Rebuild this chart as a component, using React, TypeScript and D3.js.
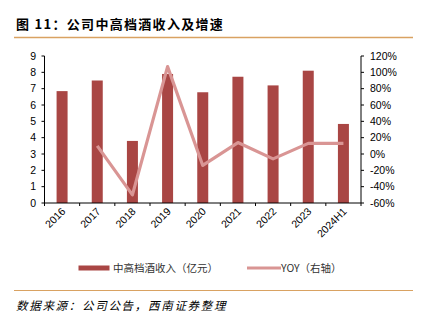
import React from "react";
import * as d3 from "d3";

const categories = ["2016", "2017", "2018", "2019", "2020", "2021", "2022", "2023", "2024H1"];
const revenue = [6.85, 7.5, 3.8, 7.9, 6.78, 7.73, 7.2, 8.1, 4.84];
const yoy = [null, 10, -50, 107, -14, 14, -6, 13, 13];
const leftTicks = [0, 1, 2, 3, 4, 5, 6, 7, 8, 9];
const rightTicks = [-60, -40, -20, 0, 20, 40, 60, 80, 100, 120];

const W = 423, H = 323;
const plot = { left: 44.5, right: 361, top: 56, bottom: 203 };
const barColor = "#A94644";
const lineColor = "#D99594";
const font = "'Liberation Sans', Arial, sans-serif";
const cjk = "'Noto Sans CJK SC', sans-serif";

export default function App() {
  const x = d3.scaleBand().domain(categories).range([plot.left, plot.right]).paddingInner(0).paddingOuter(0);
  const yL = d3.scaleLinear().domain([0, 9]).range([plot.bottom, plot.top]);
  const yR = d3.scaleLinear().domain([-60, 120]).range([plot.bottom, plot.top]);
  const bw = 11;
  const line = d3.line<[string, number | null]>()
    .defined((d) => d[1] !== null)
    .x((d) => (x(d[0]) as number) + x.bandwidth() / 2)
    .y((d) => yR(d[1] as number));
  const pts = categories.map((c, i) => [c, yoy[i]] as [string, number | null]);
  const boundaries = categories.map((c) => x(c) as number).concat([plot.right]);

  return (
    <svg width={W} height={H} style={{ position: "absolute", left: 0, top: 0, background: "#fff" }}>
      <text x={16} y={28.5} fontFamily={cjk} fontWeight="bold" fontSize={13} letterSpacing={1.3} fill="#000">
        图 11：公司中高档酒收入及增速
      </text>
      <line x1={14} x2={413} y1={37.5} y2={37.5} stroke="#D9A262" strokeWidth={1.5} />

      {categories.map((c, i) => (
        <rect key={c} x={(x(c) as number) + x.bandwidth() / 2 - bw / 2} y={yL(revenue[i])} width={bw}
          height={plot.bottom - yL(revenue[i])} fill={barColor} />
      ))}
      <path d={line(pts) || ""} fill="none" stroke={lineColor} strokeWidth={3.2} strokeLinejoin="round" />

      {/* left axis */}
      <line x1={plot.left} x2={plot.left} y1={plot.top} y2={plot.bottom} stroke="#000" strokeWidth={1} />
      {leftTicks.map((t) => (
        <g key={t}>
          <line x1={plot.left - 3} x2={plot.left} y1={yL(t)} y2={yL(t)} stroke="#000" />
          <text x={36} y={yL(t) + 3.5} textAnchor="end" fontFamily={font} fontSize={10.5} fill="#000">{t}</text>
        </g>
      ))}
      {/* right axis */}
      <line x1={plot.right} x2={plot.right} y1={plot.top} y2={plot.bottom} stroke="#000" strokeWidth={1} />
      {rightTicks.map((t) => (
        <g key={t}>
          <line x1={plot.right} x2={plot.right + 3} y1={yR(t)} y2={yR(t)} stroke="#000" />
          <text x={370} y={yR(t) + 3.5} textAnchor="start" fontFamily={font} fontSize={10.5} fill="#000">{t}%</text>
        </g>
      ))}
      {/* x axis */}
      <line x1={plot.left} x2={plot.right} y1={plot.bottom} y2={plot.bottom} stroke="#000" strokeWidth={1} />
      {boundaries.map((b, i) => (
        <line key={i} x1={b} x2={b} y1={plot.bottom} y2={plot.bottom + 3} stroke="#000" />
      ))}
      {categories.map((c) => {
        const cx = (x(c) as number) + x.bandwidth() / 2 + 4;
        const cy = plot.bottom + 9;
        return (
          <text key={c} x={cx} y={cy} textAnchor="end" fontFamily={font} fontSize={10.5} fill="#000"
            transform={`rotate(-45 ${cx} ${cy})`}>{c}</text>
        );
      })}

      {/* legend */}
      <rect x={78.5} y={265.5} width={31} height={5} fill={barColor} />
      <text x={113} y={272} fontFamily={cjk} fontSize={10.5} fill="#333">中高档酒收入（亿元）</text>
      <line x1={247} x2={281} y1={268} y2={268} stroke={lineColor} strokeWidth={3.2} />
      <text x={281} y={272} fontFamily={cjk} fontSize={10.5} fill="#333">YOY（右轴）</text>

      <line x1={14} x2={413} y1={290.5} y2={290.5} stroke="#D9A262" strokeWidth={1.2} />
      <text x={16} y={310} fontFamily={cjk} fontSize={11.5} letterSpacing={1.7} fontStyle="italic" fill="#000">
        数据来源：公司公告，西南证券整理
      </text>
    </svg>
  );
}
